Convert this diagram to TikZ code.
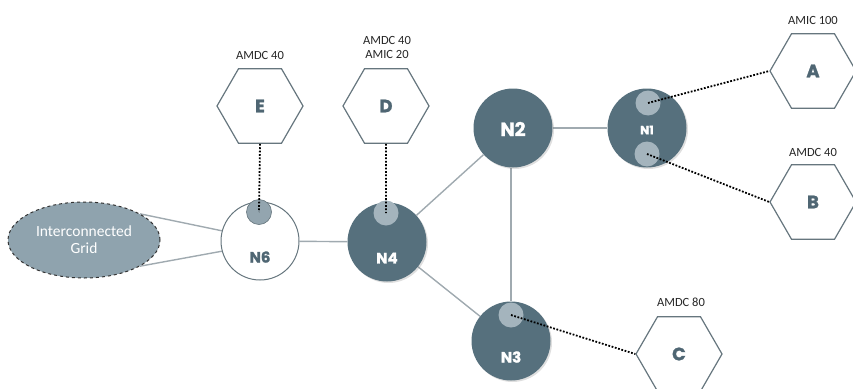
\documentclass[tikz,border=0pt]{standalone}
\usepackage{fontspec}
\setmainfont{Carlito}
\newfontfamily\heavy[BoldFeatures={FakeBold=1.3}]{Poppins}
\usetikzlibrary{shapes.geometric,shadows,backgrounds}
\definecolor{darknode}{HTML}{56707D}
\definecolor{lightdot}{HTML}{A4B4BD}
\definecolor{middot}{HTML}{93A5AF}
\definecolor{linegray}{HTML}{A0AAB0}
\definecolor{hexline}{HTML}{66767E}
\definecolor{hextext}{HTML}{4F6673}
\definecolor{gridfill}{HTML}{8FA3AE}
\tikzset{
  darkcirc/.style={circle,fill=darknode,minimum size=79pt,inner sep=0pt,text=white,
    drop shadow={opacity=0.25,shadow xshift=1.5pt,shadow yshift=-1.5pt}},
  whitecirc/.style={circle,fill=white,draw=hexline,line width=1pt,minimum size=78pt,inner sep=0pt},
  smallcirc/.style={circle,fill=lightdot,minimum size=25pt,inner sep=0pt},
  hexbox/.style={regular polygon,regular polygon sides=6,draw=hexline,line width=1.2pt,fill=white,
    minimum size=86pt,inner sep=0pt,text=hextext,font=\heavy\bfseries\fontsize{18}{18}\selectfont},
  ntext/.style={text=white,inner sep=0pt,font=\heavy\bfseries\fontsize{15}{15}\selectfont},
  lbl/.style={font=\fontsize{12.5}{14}\selectfont,text=black!85,align=center,inner sep=0pt},
  solidlink/.style={draw=linegray,line width=1.4pt},
  dotlink/.style={draw=black,line width=1.8pt,dash pattern=on 1.8pt off 1.6pt}
}
\begin{document}
\begin{tikzpicture}[x=1pt,y=-1pt]
\useasboundingbox (0,0) rectangle (853,388);
% grid
\node[ellipse,fill=gridfill,draw=black!80,dashed,line width=1pt,minimum width=152pt,minimum height=76pt,
  inner sep=0pt,text=white,align=center,font=\fontsize{15.5}{17}\selectfont] (grid) at (84,240) {Interconnected\\Grid};
% main circles
\node[whitecirc] (n6) at (260,241) {};
\node[darkcirc] (n4) at (387,242) {};
\node[darkcirc] (n2) at (513,128) {};
\node[darkcirc] (n1) at (647,128) {};
\node[darkcirc] (n3) at (511,341) {};
\node[ntext,text=hextext] (t6) at (260,257) {N6};
\node[ntext] (t4) at (387,258) {N4};
\node[ntext,font=\heavy\bfseries\fontsize{19}{19}\selectfont] (t2) at (513,129) {N2};
\node[ntext,font=\heavy\bfseries\fontsize{12}{12}\selectfont] (t1) at (647,130) {N1};
\node[ntext] (t3) at (511,357) {N3};
% small circles
\node[smallcirc,fill=middot,draw=hexline,line width=0.6pt] (s6) at (259,212) {};
\node[smallcirc] (s4) at (386,213) {};
\node[smallcirc] (s1a) at (648,103) {};
\node[smallcirc] (s1b) at (647,154) {};
\node[smallcirc] (s3) at (511,315) {};
% hexagons
\node[hexbox] (E) at (260,106) {E};
\node[hexbox] (D) at (386,106) {D};
\node[hexbox] (A) at (813,71) {A};
\node[hexbox] (B) at (813,202) {B};
\node[hexbox] (C) at (679,354) {C};
% labels
\node[lbl] (lE) at (260,55) {AMDC 40};
\node[lbl] (lD) at (387,47) {AMDC 40\\AMIC 20};
\node[lbl] (lA) at (813,20) {AMIC 100};
\node[lbl] (lB) at (813,152) {AMDC 40};
\node[lbl] (lC) at (681,302) {AMDC 80};
% solid links
\begin{pgfonlayer}{background}
\draw[solidlink] (grid.25) -- (n6.165);
\draw[solidlink] (grid.-25) -- (n6.-165);
\draw[solidlink] (n6) -- (n4);
\draw[solidlink] (n4) -- (n2);
\draw[solidlink] (n4) -- (n3);
\draw[solidlink] (n2) -- (n1);
\draw[solidlink] (n2.south -| s3) -- (n3);
\end{pgfonlayer}
% dotted links
\draw[dotlink] (E.south) -- (s6.center);
\draw[dotlink] (D.south) -- (s4.center);
\draw[dotlink] (s1a.center) -- (A.west);
\draw[dotlink] (s1b.center) -- (B.west);
\draw[dotlink] (s3.center) -- (C.west);
\end{tikzpicture}
\end{document}
